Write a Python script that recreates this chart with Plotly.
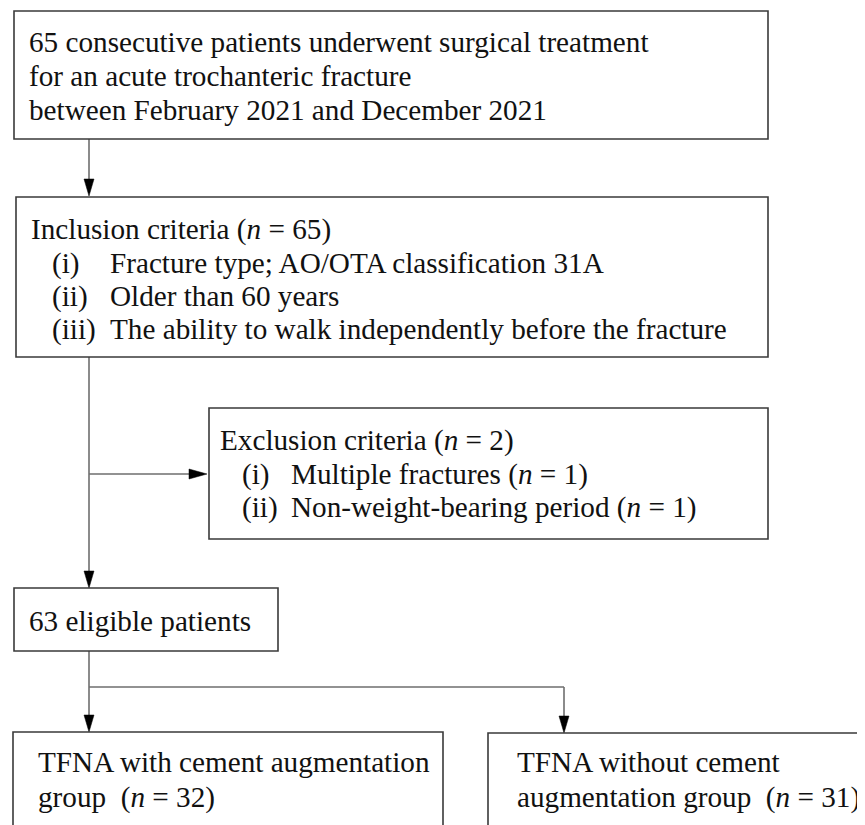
import plotly.graph_objects as go

# ---- content (data) ----
box1_lines = [
    "65 consecutive patients underwent surgical treatment",
    "for an acute trochanteric fracture",
    "between February 2021 and December 2021",
]
n_total = 65
inclusion_labels = ["(i)", "(ii)", "(iii)"]
inclusion_items = [
    "Fracture type; AO/OTA classification 31A",
    "Older than 60 years",
    "The ability to walk independently before the fracture",
]
n_excluded = 2
exclusion_labels = ["(i)", "(ii)"]
exclusion_items = ["Multiple fractures", "Non-weight-bearing period"]
exclusion_counts = [1, 1]
n_eligible = 63
group_names = [["TFNA with cement augmentation", "group"],
               ["TFNA without cement", "augmentation group"]]
group_counts = [32, 31]

W, H = 865, 825
PAGE_OFFSET = 8  # default body margin of the html page
FONT = dict(family="Liberation Serif", size=29.2, color="#111111")
BOX_COLOR = "#3a3a3a"
LINE_COLOR = "#6e6e6e"

fig = go.Figure()
shapes = []
annotations = []


def box(x0, y0, x1, y1):
    shapes.append(dict(type="rect", x0=x0, y0=y0, x1=x1, y1=y1, xref="x", yref="y",
                       line=dict(color=BOX_COLOR, width=1.6), fillcolor="white", layer="above"))


def line(x0, y0, x1, y1):
    shapes.append(dict(type="line", x0=x0, y0=y0, x1=x1, y1=y1, xref="x", yref="y",
                       line=dict(color=LINE_COLOR, width=1.6), layer="below"))


def head_down(x, y):
    shapes.append(dict(type="path", path=f"M {x-5},{y-17} L {x+5},{y-17} L {x},{y} Z",
                       fillcolor="black", line=dict(color="black", width=0.5), xref="x", yref="y"))


def head_right(x, y):
    shapes.append(dict(type="path", path=f"M {x-18},{y-5} L {x-18},{y+5} L {x},{y} Z",
                       fillcolor="black", line=dict(color="black", width=0.5), xref="x", yref="y"))


def text(x, y, s):
    annotations.append(dict(x=x, y=y, xref="x", yref="y", text=s, showarrow=False,
                            xanchor="left", yanchor="middle", font=FONT))


# Box 1
box(14, 11, 768, 139)
for i, s in enumerate(box1_lines):
    text(27, 42 + i * 34, s)

# arrow box1 -> box2
line(89, 139, 89, 190)
head_down(89, 196)

# Box 2 (inclusion)
box(16, 197, 768, 357)
text(29, 229, f"Inclusion criteria (<i>n</i> = {n_total})")
for i, (lab, it) in enumerate(zip(inclusion_labels, inclusion_items)):
    text(50, 263 + i * 33, lab)
    text(108, 263 + i * 33, it)

# line down with branch to exclusion
line(89, 357, 89, 582)
head_down(89, 588)
line(89, 474, 200, 474)
head_right(207, 474)

# Exclusion box
box(209, 408, 768, 539)
text(218, 440, f"Exclusion criteria (<i>n</i> = {n_excluded})")
for i, (lab, it, c) in enumerate(zip(exclusion_labels, exclusion_items, exclusion_counts)):
    text(240, 474 + i * 33, lab)
    text(289, 474 + i * 33, f"{it} (<i>n</i> = {c})")

# Eligible box
box(14, 588, 278, 651)
text(27, 621, f"{n_eligible} eligible patients")

# split
line(89, 651, 89, 726)
line(89, 687, 564, 687)
line(564, 687, 564, 726)
head_down(89, 732)
head_down(564, 733)

# Group boxes
box(13, 732, 443, 840)
box(488, 733, 880, 840)
text(36, 762, group_names[0][0])
text(36, 797, f"{group_names[0][1]}  (<i>n</i> = {group_counts[0]})")
text(515, 762, group_names[1][0])
text(515, 797, f"{group_names[1][1]}  (<i>n</i> = {group_counts[1]})")

fig.update_layout(
    width=W, height=H, margin=dict(l=0, r=0, t=0, b=0),
    paper_bgcolor="white", plot_bgcolor="white",
    xaxis=dict(range=[PAGE_OFFSET, W + PAGE_OFFSET], visible=False, fixedrange=True),
    yaxis=dict(range=[H + PAGE_OFFSET, PAGE_OFFSET], visible=False, fixedrange=True),
    shapes=shapes, annotations=annotations, showlegend=False,
)
fig.write_html("out.html")
